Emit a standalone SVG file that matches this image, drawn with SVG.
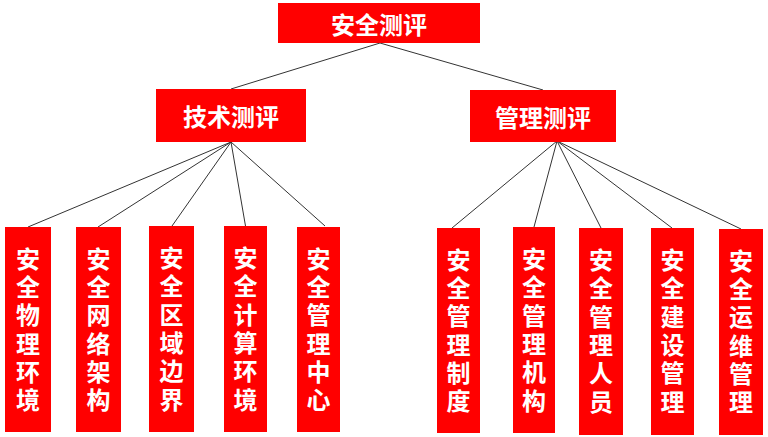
<svg xmlns="http://www.w3.org/2000/svg" width="768" height="437" viewBox="0 0 768 437">
<style>
.box{fill:#FF0000;}
.t{fill:#FFFFFF;font-family:"Noto Sans CJK SC","Noto Sans",sans-serif;font-weight:bold;font-size:24px;text-anchor:middle;dominant-baseline:central;}
.v{fill:#FFFFFF;font-family:"Noto Sans CJK SC","Noto Sans",sans-serif;font-weight:bold;font-size:24px;text-anchor:middle;writing-mode:vertical-rl;letter-spacing:4.3px;}
.c{stroke:#333333;stroke-width:1;fill:none;}
</style>
<rect width="768" height="437" fill="#FFFFFF"/>
<g id="connectors">
<line class="c" x1="380" y1="43" x2="231" y2="89"/>
<line class="c" x1="380" y1="43" x2="543" y2="90"/>
<line class="c" x1="231" y1="142" x2="28" y2="227"/>
<line class="c" x1="231" y1="142" x2="98" y2="227"/>
<line class="c" x1="231" y1="142" x2="172" y2="226"/>
<line class="c" x1="231" y1="142" x2="245.5" y2="226"/>
<line class="c" x1="231" y1="142" x2="325" y2="226"/>
<line class="c" x1="557" y1="141" x2="452" y2="228"/>
<line class="c" x1="557" y1="141" x2="534" y2="227"/>
<line class="c" x1="557" y1="141" x2="601" y2="228"/>
<line class="c" x1="557" y1="141" x2="672" y2="228"/>
<line class="c" x1="557" y1="141" x2="741" y2="229"/>
</g>
<g id="n-root"><rect class="box" x="278" y="3" width="202" height="40"/><text class="t" x="379" y="23">安全测评</text></g>
<g id="n-tech"><rect class="box" x="156" y="89" width="150" height="53"/><text class="t" x="231" y="115.5">技术测评</text></g>
<g id="n-mgmt"><rect class="box" x="470" y="90" width="146" height="52"/><text class="t" x="543" y="116">管理测评</text></g>
<g id="n1"><rect class="box" x="5" y="227" width="46" height="205"/><text class="v" x="28" y="331.4">安全物理环境</text></g>
<g id="n2"><rect class="box" x="76" y="227" width="45" height="205"/><text class="v" x="98.5" y="331.4">安全网络架构</text></g>
<g id="n3"><rect class="box" x="149" y="226" width="45" height="206"/><text class="v" x="171.5" y="330.9">安全区域边界</text></g>
<g id="n4"><rect class="box" x="224" y="226" width="43" height="206"/><text class="v" x="245.5" y="330.9">安全计算环境</text></g>
<g id="n5"><rect class="box" x="297" y="227" width="43" height="205"/><text class="v" x="318.5" y="331.4">安全管理中心</text></g>
<g id="n6"><rect class="box" x="437" y="228" width="43" height="205"/><text class="v" x="458.5" y="332.4">安全管理制度</text></g>
<g id="n7"><rect class="box" x="513" y="227" width="42" height="206"/><text class="v" x="534" y="331.9">安全管理机构</text></g>
<g id="n8"><rect class="box" x="579" y="228" width="44" height="207"/><text class="v" x="601" y="332.9">安全管理人员</text></g>
<g id="n9"><rect class="box" x="651" y="228" width="43" height="207"/><text class="v" x="672.5" y="332.9">安全建设管理</text></g>
<g id="n10"><rect class="box" x="719" y="229" width="44" height="206"/><text class="v" x="741" y="333.4">安全运维管理</text></g>
</svg>
